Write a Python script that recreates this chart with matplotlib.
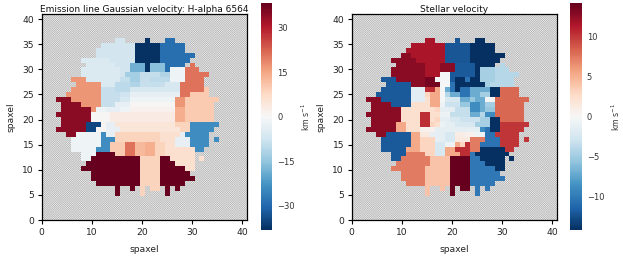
import re
import numpy as np
import matplotlib
matplotlib.use("Agg")
import matplotlib.pyplot as plt

W, H = 623, 259
N = 41
titles = ["Emission line Gaussian velocity: H-alpha 6564", "Stellar velocity"]
limits = [38.3, 14.2]
cbar_ticks = [[-30, -15, 0, 15, 30], [-10, -5, 0, 5, 10]]
axis_ticks = [0, 10, 20, 30, 40]
y_ticks = [0, 5, 10, 15, 20, 25, 30, 35, 40]

# velocity (km/s) of each region code
ha_levels = dict(M=38.3, R=34.5, O=16.9, o=20.7, P=10, p=6, q=8.4, s=13.8, t=12.3,
                 W=-1.5, w=0.4, a=1.5, c=3, d=4.6, n=-38, D=-35, B=-29, b=-23.7,
                 l=-18.4, k=-16, i=-13, m=-11.5, h=-10, j=-9.2, g=-8.8, z=-7.7,
                 u=-6.9, y=-6.1, v=-5.4, e=-3, f=-1.5)
st_levels = dict(M=14.2, K=12.8, R=12.8, I=13.6, Z=11.6, C=10.5, G=10.2, r=8.2, F=7.4,
                 s=5.4, P=4, q=3.1, p=2.3, d=1.4, c=1.1, a=0.6, w=0.1, T=-0.3, f=-0.7,
                 e=-1.3, E=-1.6, y=-2.3, g=-3.1, j=-3.4, h=-4, L=-4, A=-4.7, m=-4.8,
                 i=-5.4, l=-7.1, b=-8.8, B=-10.5, H=-10.2, X=-11.9, Y=-12.2, n=-14.2)

# row -> runs of columns and region code
ha_rows = {
 36: "15-16u 21n 25-26B",
 35: "12-18u 19-23n 24-28B",
 34: "11-18u 19-23n 24-28B",
 33: "11-18u 19-23n 24-30B",
 32: "8-13v 14-18u 19-23n 24-29B",
 31: "9-14v 15-17u 18-20l 21n 22-24k 25-28B 30o",
 30: "8-15v 16-17u 18-20l 21n 22-24k 25B 26-28f 29-31o",
 29: "8-15v 16u 17-19i 20-23j 24-25m 26-28f 29-33o",
 28: "6-8O 9-15v 16-17j 18-19i 20-21g 22-25h 26-28f 29-32o",
 27: "7-11O 12-14v 15-17h 18-19m 20-21g 22-23j 24g 25-27y 28-32o",
 26: "6-11O 12-14g 15-17h 18-27y 28-32o 33P",
 25: "5-11O 12-15g 16-17z 18-27e 28-29o 30-33P",
 24: "3-5R 6-11O 12-15g 16-17y 18-26f 27-28O 29-35P",
 23: "4-7R 8-11O 12-14g 15-17e 18-26w 27-28O 29-34P",
 22: "4-9R 10O 11-12W 13-15e 16-17f 18-26a 27-28s 29-34P",
 21: "3-9R 10-13w 14-26c 27-28s 29-34P",
 20: "4-9R 10-13w 14-26c 27-28s 29-34P",
 19: "4-8R 9-11D 12w 13-14e 15-26d 27-29q 30-35b",
 18: "3-8R 9-10D 11-12w 13-15e 16-27d 28-29q 30-34b",
 17: "5-6R 7-11W 12b 13-14e 15-23q 24-27p 28e 29-33b",
 16: "6-11W 12-14b 15-23q 24-26p 27-29e 30-33b 35b",
 15: "6-11W 12-13b 14-16P 17-18o 19-20t 21-22s 23-24q 25-26p 27-29e 30-33b",
 14: "6-10W 11-13b 14-16P 17-18o 19-20t 21-22s 23-24q 25-30p 31-32b",
 13: "8-10W 11-14M 15-16P 17-18o 19-20t 21-22s 23-24q 25-30p",
 12: "8-9W 10-19M 20-23q 24-25M 26-30p 32p",
 11: "9-19M 20-23q 24-26M 27-30p",
 10: "8-19M 20-23q 24-28M 29-30p",
 9: "10-19M 20-23q 24-29M",
 8: "10-19M 20-23q 24-30M",
 7: "11-19M 20-23q 24-28M",
 6: "15M 18M 20q 22-23q 25M 27M",
 5: "15M 20q 25M",
}
st_rows = {
 36: "15-16Z 21Y 25-26n",
 35: "12-18Z 19-23Y 24-28n",
 34: "11-18Z 19-23Y 24-28n",
 33: "10-11K 12-18Z 19-23Y 24-30n",
 32: "8-12K 13-18Z 19-23Y 24-29n",
 31: "9-14K 15-17Z 18-20K 21-24X 25-28n 30L",
 30: "8-14K 15-17Z 18-20K 21-24X 25n 26-28A 29-31L",
 29: "8-14K 15-17Z 18-19T 20-24X 25n 26-28A 29-33L",
 28: "6-8X 9-14K 15-16I 17-19T 20X 21-22n 23B 24-25n 26-28A 29-32L",
 27: "7-11X 12-14K 15-17I 18-19T 20B 21-26n 27A 28-32L",
 26: "6-11X 12-14E 15-16C 17s 18T 19l 20B 21n 22-23B 24-27l 28-29n 30-33r",
 25: "5-11X 12-14E 15q 16-17s 18w 19h 20-21l 22-23B 24-25l 26-27m 28-29n 30-33r",
 24: "3-5R 6-11X 12-14E 15p 16-17s 18T 19-21y 22-23l 24i 25-26l 27-28T 29-35r",
 23: "4-7R 8-11X 12-15p 16-17s 18f 19-21g 22-23i 24-25b 26l 27-28m 29-34r",
 22: "4-9R 10-16p 17q 18-20e 21-23j 24-25b 26l 27-28i 29-34r",
 21: "3-9R 10-13p 14-15C 16-17p 18-19f 20-23j 24-25l 26h 27-28b 29-34r",
 20: "4-9R 10-13p 14-15C 16p 17q 18-19e 20-21y 22-25g 26-27A 28-29n 30-34r",
 19: "4-8R 9-10s 11-13p 14-15C 16q 17p 18f 19-20e 21-24y 25-27A 28-29n 30-35G",
 18: "3-8R 9-10s 11-13p 14-16a 17-25e 26b 27B 28-29n 30-34G",
 17: "5-6R 7-11X 12-13s 14-15d 16-18e 19-20y 21-22c 23-24a 25-26f 27-28B 29-33G",
 16: "6-11X 12-13s 14-16q 17-18e 19-20y 21-23d 24-26F 27-29B 30-33G 35G",
 15: "6-11X 12-13s 14-16q 17-18y 19-20f 21s 22q 23C 24-25F 26-29B 30-33G",
 14: "6-10X 11-13s 14-16q 17-18y 19-20s 21-23C 24-25F 26-30n 31-32G",
 13: "8-10X 11-14F 15-16q 17-18y 19-21s 22-23C 24H 25-31n",
 12: "8-9X 10-15F 16-19P 20-23M 24-25H 26-30n 32n",
 11: "9-15F 16-19P 20-23M 24-26H 27-30n",
 10: "8-14F 15-19P 20-23M 24-28H 29-30n",
 9: "10-14F 15-19P 20-23M 24-29H",
 8: "10-14F 15-19P 20-23M 24-30H",
 7: "11-14F 15-19P 20-23M 24-28H",
 6: "15P 18P 20M 22-23M 25H 27H",
 5: "15P 20M 25H",
}


def build(rows, levels):
    grid = np.full((N, N), np.nan)
    for j, spec in rows.items():
        for a, b, code in re.findall(r"(\d+)(?:-(\d+))?([A-Za-z])", spec):
            grid[j, int(a):int(b or a) + 1] = levels[code]
    return grid


maps = [build(ha_rows, ha_levels), build(st_rows, st_levels)]

plt.rcParams["hatch.linewidth"] = 0.3
fig = plt.figure(figsize=(W / 100, H / 100), dpi=100)


def box(x0, x1, ytop, ybot):
    return [x0 / W, 1 - ybot / H, (x1 - x0) / W, (ybot - ytop) / H]


ax_px = [(41.7, 247), (351.7, 557)]
cb_px = [(260.7, 272.3), (570, 582)]
lab_x = [305.5, 616]
for k in range(2):
    ax = fig.add_axes(box(*ax_px[k], 14, 220))
    ax.patch.set(facecolor="white", edgecolor="#b4b4b4", hatch="x" * 18)
    im = ax.imshow(maps[k], origin="lower", cmap="RdBu_r", vmin=-limits[k], vmax=limits[k],
                   extent=(-0.15, 40.15, -0.15, 40.15), interpolation="nearest", aspect="auto")
    ax.set_xlim(0, 41)
    ax.set_ylim(0, 41)
    ax.set_xticks(axis_ticks)
    ax.set_yticks(y_ticks)
    ax.tick_params(labelsize=6.6, length=3, width=0.8, pad=2.5, labelcolor="#222222")
    ax.set_xlabel("spaxel", fontsize=6.6, labelpad=6, color="#222222")
    ax.set_ylabel("spaxel", fontsize=6.6, labelpad=5, color="#222222")
    ax.set_title(titles[k], fontsize=6.45, pad=1.5, color="#111111")
    for s in ax.spines.values():
        s.set_linewidth(0.9)
    cax = fig.add_axes(box(*cb_px[k], 3.3, 230))
    cb = fig.colorbar(im, cax=cax, ticks=cbar_ticks[k])
    cb.outline.set_visible(False)
    cax.tick_params(length=0, labelsize=6, pad=3.5, labelcolor="#333333")
    fig.text(lab_x[k] / W, 1 - 117 / H, "km s$^{-1}$", rotation=90, ha="center", va="center",
             fontsize=5.6, color="#333333")

fig.savefig("out.png", dpi=100)
